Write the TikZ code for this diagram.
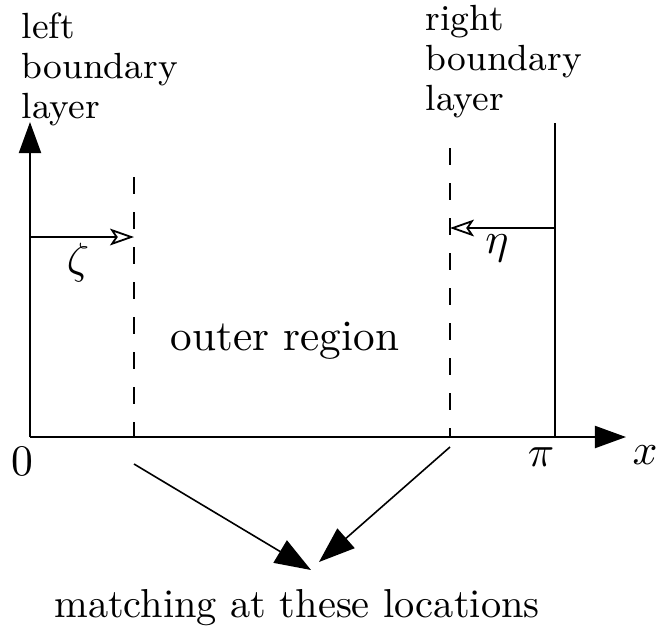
\RequirePackage{fix-cm}
\documentclass[tikz,border=0pt]{standalone}
\usetikzlibrary{arrows.meta}
\begin{document}
\begin{tikzpicture}[x=0.25pt,y=-0.25pt,
  axisline/.style={line width=0.5pt},
  axisarrow/.style={axisline,-{Triangle[length=7.75pt,width=5.5pt]}},
  dashline/.style={line width=0.4pt,dash pattern=on 4.25pt off 4.5pt},
  coordarrow/.style={line width=0.45pt,-{Stealth[open,length=6pt,width=4.2pt,inset=1.4pt]}},
  matcharrow/.style={line width=0.4pt,-{Triangle[length=9pt,width=6.5pt]}},
  lbl/.style={inner sep=0pt,font=\fontsize{9.1}{10}\selectfont,align=left},
  axlbl/.style={inner sep=0pt,font=\fontsize{10.9}{13}\selectfont},
  bigtext/.style={inner sep=0pt,font=\fontsize{10.8}{13}\selectfont}]
\useasboundingbox (0,0) rectangle (657,625);
% coordinates
\coordinate (O) at (30,437);
\coordinate (Ytip) at (30,122);
\coordinate (Xtip) at (626,437);
\coordinate (Ltop) at (134,177);
\coordinate (Lbot) at (134,437);
\coordinate (Rtop) at (450,148);
\coordinate (Rbot) at (450,437);
\coordinate (Wtop) at (555,123);
\coordinate (Wbot) at (555,437);
\coordinate (Zs) at (30,237);
\coordinate (Ze) at (134,237);
\coordinate (Es) at (555,228);
\coordinate (Ee) at (450,228);
\coordinate (Ms1) at (134,464);
\coordinate (Mt1) at (311,570);
\coordinate (Ms2) at (450,447);
\coordinate (Mt2) at (319,562);
% axes
\draw[axisarrow] (O) -- (Ytip);
\draw[axisarrow] (O) -- (Xtip);
\draw[axisline] (Wbot) -- (Wtop);
% dashed boundaries
\draw[dashline] (Ltop) -- (Lbot);
\draw[dashline] (Rtop) -- (Rbot);
% inner coordinates
\draw[coordarrow] (Zs) -- (Ze);
\draw[coordarrow] (Es) -- (Ee);
% labels
\node[lbl,anchor=base west] (left) at (21,118) {left\\boundary\\layer};
\node[lbl,anchor=base west] (right) at (425,110) {right\\boundary\\layer};
\node[axlbl] (zeta) at (78,263) {$\zeta$};
\node[axlbl] (eta) at (497,248) {$\eta$};
\node[axlbl] (zero) at (22,461) {$0$};
\node[axlbl] (pi) at (541,457) {$\pi$};
\node[axlbl] (xl) at (645,455) {$x$};
\node[bigtext,anchor=base] (outer) at (285,350) {outer region};
\node[bigtext,anchor=base,font=\fontsize{10.1}{12}\selectfont] (match) at (297,617) {matching at these locations};
% matching arrows
\draw[matcharrow] (Ms1) -- (Mt1);
\draw[matcharrow] (Ms2) -- (Mt2);
\end{tikzpicture}
\end{document}
